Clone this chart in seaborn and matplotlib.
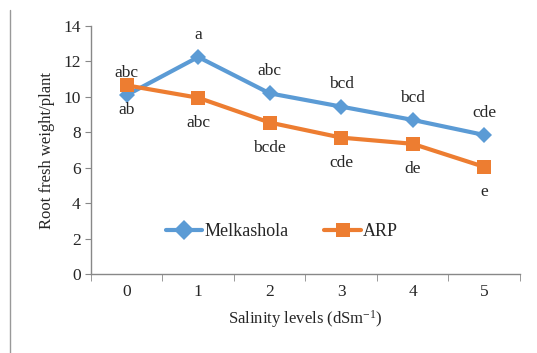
import pandas as pd
import matplotlib.pyplot as plt
from matplotlib.lines import Line2D
import seaborn as sns

# data
salinity = [0, 1, 2, 3, 4, 5]
melkashola = [10.1, 12.25, 10.2, 9.45, 8.7, 7.85]
arp = [10.65, 9.95, 8.55, 7.7, 7.35, 6.05]
melk_letters = ['abc', 'a', 'abc', 'bcd', 'bcd', 'cde']
arp_letters = ['ab', 'abc', 'bcde', 'cde', 'de', 'e']

df = pd.concat([
    pd.DataFrame({'level': salinity, 'weight': melkashola, 'variety': 'Melkashola'}),
    pd.DataFrame({'level': salinity, 'weight': arp, 'variety': 'ARP'}),
])

sns.set_style('white')
plt.rcParams['font.family'] = ['Liberation Serif', 'DejaVu Serif']
plt.rcParams['mathtext.default'] = 'regular'

fig = plt.figure(figsize=(5.37, 3.53), dpi=100)
ax = fig.add_axes([0.1695, 0.2238, 0.7985, 0.7025])

palette = {'Melkashola': '#5B9BD5', 'ARP': '#ED7D31'}
markers = {'Melkashola': 'D', 'ARP': 's'}
sns.lineplot(data=df, x='level', y='weight', hue='variety', style='variety',
             palette=palette, markers=markers, dashes=False, linewidth=3,
             markersize=10.5, markeredgewidth=0, ax=ax)
# diamonds are smaller than the squares
ax.lines[0].set_markersize(8.5)

for x, y, t in zip(salinity, melkashola, melk_letters):
    ax.annotate(t, (x, y), xytext=(0, 16), textcoords='offset points',
                ha='center', va='center', fontsize=12.5)
for x, y, t in zip(salinity, arp, arp_letters):
    ax.annotate(t, (x, y), xytext=(0, -18), textcoords='offset points',
                ha='center', va='center', fontsize=12.5)

ax.set_xlim(-0.5, 5.5)
ax.set_ylim(0, 14)
ax.set_yticks(range(0, 15, 2))
ax.set_xticks(salinity)
ax.set_xticks([i - 0.5 for i in range(7)], minor=True)
ax.tick_params(axis='x', which='major', length=0, labelsize=12.5, pad=7)
ax.tick_params(axis='x', which='minor', length=5, color='#888888', direction='out', bottom=True)
ax.tick_params(axis='y', length=4, color='#888888', direction='out', left=True, labelsize=12.5)
for s in ['top', 'right']:
    ax.spines[s].set_visible(False)
for s in ['left', 'bottom']:
    ax.spines[s].set_color('#888888')
    ax.spines[s].set_linewidth(1)

ax.set_xlabel('Salinity levels (dSm$^{-1}$)', fontsize=12, labelpad=6)
ax.set_ylabel('Root fresh weight/plant', fontsize=12, labelpad=6)

leg = ax.legend(loc='center', bbox_to_anchor=(0.445, 0.17), ncol=2, frameon=False,
                fontsize=13, handlelength=2.0, handletextpad=0.1, columnspacing=2.0)

fig.add_artist(Line2D([10 / 537, 10 / 537], [0, 1 - 10 / 353], color='#999999', linewidth=1))

fig.savefig('out.png', dpi=100)
